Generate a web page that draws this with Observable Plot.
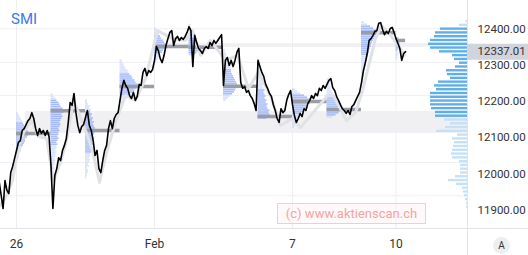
<!DOCTYPE html>
<html>
<head>
<meta charset="utf-8">
<script src="https://cdn.jsdelivr.net/npm/d3@7"></script>
<script src="https://cdn.jsdelivr.net/npm/@observablehq/plot@0.6"></script>
<style>
  html, body { margin: 0; padding: 0; background: #fff; overflow: hidden; }
  #chart { position: relative; width: 528px; height: 255px; }
  .title { position: absolute; left: 11px; top: 10px; font: 15px Roboto, sans-serif; color: #3b78f2; }
  .mark { position: absolute; left: 277px; top: 203px; width: 147px; height: 19px; border: 1px solid #f8cccc;
          background: rgba(255, 240, 240, 0.4);
          font: 13px Roboto, sans-serif; color: #f4a3a3; line-height: 19px; text-align: center; box-sizing: content-box; }
  .auto { position: absolute; left: 493px; top: 237px; width: 17px; height: 17px; border-radius: 50%;
          background: #eceef2; font: 10px Roboto, sans-serif; color: #333; text-align: center; line-height: 17px; }
</style>
</head>
<body>
<div id="chart">
  <div class="title">SMI</div>
</div>
<script>
// SMI intraday, sessions Jan 25 – Feb 10; one session = one unit on the x scale.
const axisTicks = [1, 5, 9, 12];
const axisLabels = ["26", "Feb", "7", "10"];
const priceTicks = [12400, 12300, 12200, 12100, 12000, 11900];
const gridPrices = [12400, 12308, 12216, 12124, 12032, 11940];
const lastPrice = 12337.01;

// index prices, 18 samples per session (Jan 25 only its second half)
const jan25 = [11977, 11941, 11905, 11982, 11955, 11946, 12004, 12021, 12043];
const jan26 = [12065, 12087, 12092, 12120, 12125, 12136, 12147, 12153, 12169, 12153, 12125, 12106, 12125, 12112, 12120, 12106, 12120, 12103];
const jan27 = [12023, 11905, 11996, 12015, 12045, 12037, 12065, 12079, 12098, 12142, 12197, 12189, 12222, 12169, 12134, 12114, 12131, 12136];
const jan28 = [12156, 12175, 12134, 12120, 12092, 12051, 12065, 12015, 12004, 12037, 12065, 12079, 12125, 12147, 12125, 12153, 12164, 12169];
const jan31 = [12203, 12236, 12258, 12244, 12236, 12216, 12208, 12225, 12203, 12214, 12247, 12244, 12280, 12291, 12271, 12285, 12280, 12288];
const feb1 = [12313, 12351, 12340, 12318, 12307, 12327, 12354, 12373, 12390, 12395, 12354, 12373, 12379, 12368, 12376, 12371, 12379, 12390];
const feb2 = [12406, 12395, 12296, 12382, 12362, 12346, 12340, 12332, 12346, 12351, 12346, 12362, 12354, 12368, 12360, 12368, 12376, 12384];
const feb3 = [12244, 12313, 12321, 12299, 12313, 12296, 12313, 12335, 12346, 12252, 12236, 12241, 12225, 12230, 12216, 12208, 12194, 12175];
const feb4 = [12313, 12296, 12280, 12269, 12247, 12236, 12222, 12214, 12191, 12175, 12153, 12142, 12180, 12169, 12175, 12203, 12219, 12230];
const feb7 = [12191, 12161, 12142, 12153, 12167, 12158, 12180, 12175, 12194, 12203, 12216, 12208, 12222, 12216, 12236, 12230, 12244, 12236];
const feb8 = [12247, 12258, 12263, 12238, 12230, 12214, 12203, 12191, 12180, 12175, 12167, 12175, 12164, 12186, 12191, 12203, 12214, 12225];
const feb9 = [12252, 12285, 12307, 12332, 12368, 12373, 12382, 12393, 12395, 12415, 12417, 12398, 12384, 12393, 12387, 12401, 12404, 12390];
const feb10 = [12373, 12360, 12346, 12313, 12332, 12337.01];

// smoothed trace drawn under the price
const shadowT = [0.536, 0.710, 0.884, 1.058, 1.232, 1.435, 1.638, 1.870, 2.072, 2.275, 2.449, 2.652, 2.797, 3.000, 3.203, 3.406, 3.609, 3.870, 4.159, 4.449, 4.739, 5.087, 5.522, 5.899, 6.101, 6.333, 6.623, 7.058, 7.406, 7.725, 8.014, 8.362, 8.652, 9.000, 9.232, 10.014, 10.188, 10.565, 10.826, 11.029, 11.406, 11.580, 11.841, 12.072, 12.246];
const shadowP = [11913, 11941, 11982, 12079, 12120, 12147, 12103, 12098, 11982, 12032, 12092, 12203, 12169, 12120, 12065, 11977, 12059, 12142, 12216, 12203, 12263, 12395, 12373, 12368, 12395, 12327, 12368, 12313, 12327, 12236, 12280, 12216, 12134, 12153, 12128, 12216, 12216, 12147, 12169, 12230, 12373, 12409, 12382, 12354, 12327];

// session volume profiles: lowest row price, then volume per 5.5-point row upwards
const vpRow = 5.5;
const vpLows = [12040, 11982, 11988, 12197, 12307, 12327, 12203, 12153, 12128, 12156, 12252, 12313];
const vpJan26 = [2, 3, 3, 4, 5, 5, 6, 7, 8, 9, 9, 11, 12, 13, 12, 10, 9, 8, 7, 6, 5, 4, 3, 2];
const vpJan27 = [2, 2, 3, 2, 3, 3, 4, 3, 4, 4, 5, 4, 5, 5, 6, 5, 6, 6, 7, 6, 7, 8, 7, 8, 8, 9, 8, 9, 10, 9, 10, 11, 12, 11, 13, 14, 12, 10, 9, 8, 6, 5, 3, 2];
const vpJan28 = [1, 2, 2, 3, 3, 2, 4, 3, 4, 5, 4, 5, 5, 6, 6, 7, 6, 8, 7, 8, 9, 8, 9, 10, 12, 10, 9, 8, 9, 7, 8, 6, 7, 5, 6, 4, 5, 3, 2, 2];
const vpJan31 = [3, 5, 7, 9, 11, 13, 15, 17, 20, 18, 16, 15, 13, 12, 10, 9, 8, 6, 5, 4, 3, 2];
const vpFeb1 = [2, 3, 4, 5, 6, 8, 9, 11, 13, 12, 10, 9, 7, 6, 5, 4, 3, 2];
const vpFeb2 = [5, 8, 10, 11, 12, 10, 9, 8, 7, 6, 5, 5, 4, 3, 2, 2];
const vpFeb3 = [3, 5, 7, 9, 11, 12, 13, 15, 14, 13, 12, 11, 10, 9, 8, 8, 7, 6, 6, 5, 5, 4, 3, 3, 2, 2];
const vpFeb4 = [9, 13, 12, 11, 12, 10, 9, 10, 8, 9, 7, 8, 7, 6, 7, 6, 5, 6, 5, 4, 5, 4, 4, 3, 4, 3, 3, 2, 2, 2];
const vpFeb7 = [2, 3, 4, 5, 6, 7, 8, 9, 11, 12, 14, 16, 18, 20, 17, 15, 12, 8, 5, 3];
const vpFeb8 = [6, 9, 12, 14, 16, 15, 13, 12, 10, 9, 8, 7, 6, 5, 4, 4, 3, 3, 2, 2];
const vpFeb9 = [2, 2, 2, 3, 3, 3, 4, 4, 5, 5, 5, 6, 6, 7, 7, 8, 8, 9, 10, 10, 11, 12, 13, 14, 15, 17, 15, 12, 9, 6, 3];
const vpFeb10 = [1, 2, 2, 3, 2, 2, 3, 3, 4, 4, 5, 3];

// visible-range volume profile: 50 rows from the top down
const rangeHigh = 12425.2, rangeLow = 11903.8;
const rangeVolume = [1.7, 8, 27, 32, 33, 37, 39, 37, 28, 15, 13, 8, 12, 21, 20, 17, 29, 33, 31, 37, 37, 37, 37, 36, 32, 32,
  23, 17, 22, 31, 10, 15, 13, 14, 15, 16, 15, 8, 7, 7, 7, 12, 19, 11, 5, 4, 3, 2, 1, 1];

// shaded price zones
const zoneFrom = [1.26, 5.26];
const zoneLo = [12112, 12349];
const zoneHi = [12172, 12359];

// ---- build tables ----
const perSession = 18;
const days = [jan25, jan26, jan27, jan28, jan31, feb1, feb2, feb3, feb4, feb7, feb8, feb9, feb10];
const price = [];
days.forEach((vals, k) => {
  const offset = k === 0 ? perSession - vals.length : 0;
  vals.forEach((p, i) => price.push({t: k + (offset + i) / perSession, p}));
});
const lastT = price[price.length - 1].t;
const shadow = shadowT.map((t, i) => ({t, p: shadowP[i]}));

const xMin = 0.5362, xMax = 14.0725;
const W = 528, H = 255, mRight = 61, mBottom = 27;
const unit = (xMax - xMin) / (W - mRight); // x units per volume unit
const yTop = 12478, yBottom = 11850;
const yUnit = (yTop - yBottom) / (H - mBottom);

function valueArea(v, share = 0.7) {
  const total = d3.sum(v);
  let lo = d3.maxIndex(v), hi = lo, acc = v[lo];
  while (acc < share * total && (lo > 0 || hi < v.length - 1)) {
    const up = hi < v.length - 1 ? v[hi + 1] : -1;
    const dn = lo > 0 ? v[lo - 1] : -1;
    if (up >= dn) acc += v[++hi]; else acc += v[--lo];
  }
  return [lo, hi];
}

const profiles = [vpJan26, vpJan27, vpJan28, vpJan31, vpFeb1, vpFeb2, vpFeb3, vpFeb4, vpFeb7, vpFeb8, vpFeb9, vpFeb10];
const vpBars = [], pocs = [];
profiles.forEach((v, j) => {
  const k = j + 1;
  const [lo, hi] = valueArea(v);
  v.forEach((vol, i) => {
    const c = vpLows[j] + i * vpRow;
    vpBars.push({x1: k, x2: k + vol * unit, y1: c - vpRow * 0.3, y2: c + vpRow * 0.3, va: i >= lo && i <= hi});
  });
  const poc = d3.maxIndex(v);
  pocs.push({x1: k, x2: Math.min(k + 1, lastT), y: vpLows[j] + poc * vpRow});
});

const rowH = (rangeHigh - rangeLow) / rangeVolume.length;
const [rlo, rhi] = valueArea(rangeVolume);
const rangeBars = rangeVolume.map((vol, i) => {
  const c = rangeHigh - (i + 0.5) * rowH;
  return {x1: xMax - vol * unit, x2: xMax, y1: c - rowH * 0.31, y2: c + rowH * 0.31, va: i >= rlo && i <= rhi};
});

const zones = zoneFrom.map((f, i) => ({x1: f, x2: xMax, y1: zoneLo[i], y2: zoneHi[i]}));
const xEdge = xMax + mRight * unit;
const yEdge = yBottom - mBottom * yUnit;

const chart = Plot.plot({
  width: W, height: H,
  marginTop: 0, marginLeft: 0, marginRight: mRight, marginBottom: mBottom,
  style: {fontFamily: "Roboto, sans-serif", fontSize: "11.5px", color: "#333", background: "#fff"},
  x: {domain: [xMin, xMax]},
  y: {domain: [yBottom, yTop]},
  marks: [
    Plot.rect(zones, {x1: "x1", x2: "x2", y1: "y1", y2: "y2", fill: "#f0f0f3"}),
    Plot.gridY(gridPrices, {stroke: "#eeeff2", strokeOpacity: 1}),
    Plot.gridX(axisTicks, {stroke: "#eeeff2", strokeOpacity: 1}),
    Plot.rect(vpBars, {x1: "x1", x2: "x2", y1: "y1", y2: "y2", fill: d => d.va ? "#8fa9f4" : "#cbd7fb", clip: "frame"}),
    Plot.ruleY(pocs, {x1: "x1", x2: "x2", y: "y", stroke: "#9a9da6", strokeWidth: 3.5}),
    Plot.line(shadow, {x: "t", y: "p", stroke: "#e0e2e6", strokeWidth: 3, clip: "frame"}),
    Plot.line(price, {x: "t", y: "p", stroke: "#000", strokeWidth: 1.6, clip: "frame"}),
    Plot.rect(rangeBars, {x1: "x1", x2: "x2", y1: "y1", y2: "y2", fill: d => d.va ? "#5daeea" : "#c6e0f5"}),
    Plot.ruleY([yBottom], {x1: xMin, x2: xEdge, stroke: "#e0e3eb"}),
    Plot.ruleX([xMax], {y1: yTop, y2: yEdge, stroke: "#e0e3eb"}),
    Plot.ruleY([lastPrice], {x1: xMax, x2: xEdge, stroke: "#d1d4dc", strokeWidth: 16}),
    Plot.axisY(priceTicks, {anchor: "right", tickSize: 0, tickPadding: 10, tickFormat: d => d.toFixed(2)}),
    Plot.text([lastPrice], {x: xMax, y: d => d, text: d => d.toFixed(2), dx: 10, textAnchor: "start", fill: "#333"}),
    Plot.axisX(axisTicks, {anchor: "bottom", tickSize: 0, tickPadding: 11, fontSize: 12, tickFormat: d => axisLabels[axisTicks.indexOf(d)]})
  ]
});
const host = document.getElementById("chart");
host.insertBefore(chart, host.firstChild);
const wm = document.createElement("div"); wm.className = "mark"; wm.textContent = "(c) www.aktienscan.ch"; host.appendChild(wm);
const au = document.createElement("div"); au.className = "auto"; au.textContent = "A"; host.appendChild(au);
</script>
</body>
</html>
